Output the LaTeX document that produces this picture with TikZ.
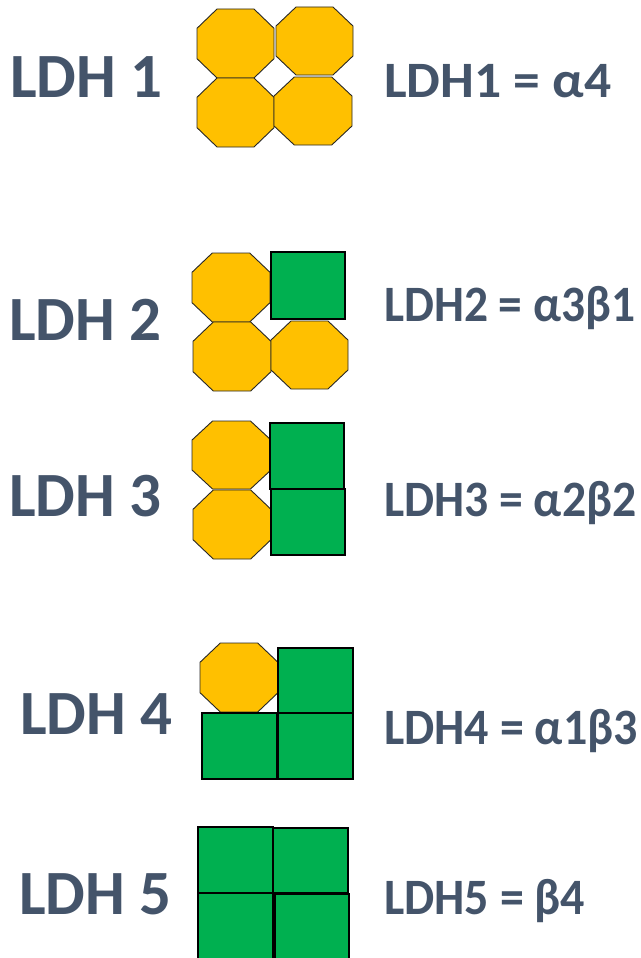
\documentclass[tikz,border=0pt]{standalone}
\usepackage{fontspec}
\setmainfont{Carlito}
\definecolor{txt}{HTML}{44546A}
\definecolor{oyel}{HTML}{FFC000}
\definecolor{sgrn}{HTML}{00B050}
\tikzset{
  oct/.style={fill=oyel, draw=black!85, line width=0.9pt, line join=miter},
  sq/.style={fill=sgrn, draw=black, line width=2pt},
  lbig/.style={text=txt, font=\fontsize{63}{63}\selectfont\bfseries, inner sep=0pt, anchor=base west},
  lsmall/.style={text=txt, font=\fontsize{51}{51}\selectfont\bfseries, inner sep=0pt, anchor=base west}
}
\newcommand{\octg}[4]{\draw[oct] ({#1+0.26*(#3-#1)},#2) -- ({#3-0.26*(#3-#1)},#2) -- (#3,{#2+0.28*(#4-#2)}) -- (#3,{#4-0.28*(#4-#2)}) -- ({#3-0.26*(#3-#1)},#4) -- ({#1+0.26*(#3-#1)},#4) -- (#1,{#4-0.28*(#4-#2)}) -- (#1,{#2+0.28*(#4-#2)}) -- cycle;}
\newcommand{\sqbox}[4]{\draw[sq] (#1,#2) rectangle (#3,#4);}
\begin{document}
\begin{tikzpicture}[x=1pt,y=-1pt]
\clip (0,0) rectangle (640,958);
% LDH1
\octg{197}{9}{274}{78}
\octg{276}{7}{353}{75}
\octg{197}{78}{274}{147}
\octg{274}{77}{352}{145}
% LDH2
\octg{192}{253}{270}{322}
\sqbox{271}{252}{345}{319}
\octg{193}{322}{271}{391}
\octg{271}{321}{348}{389}
% LDH3
\octg{192}{421}{271}{489}
\octg{193}{490}{271}{559}
\sqbox{270}{423}{344}{489}
\sqbox{271}{489}{345}{555}
% LDH4
\octg{200}{643}{278}{712}
\sqbox{278}{648}{353}{713}
\sqbox{202}{713}{277}{779}
\sqbox{278}{713}{353}{779}
% LDH5
\sqbox{198}{827}{273}{893}
\sqbox{273}{828}{348}{893}
\sqbox{198}{893}{273}{962}
\sqbox{275}{894}{349}{962}
% labels
\node[lbig] (l1) at (10,97) {LDH 1};
\node[lbig] (l2) at (9,340) {LDH 2};
\node[lbig] (l3) at (9,516) {LDH 3};
\node[lbig] (l4) at (20,734) {LDH 4};
\node[lbig] (l5) at (19,914) {LDH 5};
\node[lsmall] (r1) at (384,97) {\scalebox{1.05}[1]{LDH1 = α4}};
\node[lsmall] (r2) at (384,321) {\scalebox{0.93}[1]{LDH2 = α3β1}};
\node[lsmall] (r3) at (384,516) {\scalebox{0.935}[1]{LDH3 = α2β2}};
\node[lsmall] (r4) at (384,744) {\scalebox{0.94}[1]{LDH4 = α1β3}};
\node[lsmall] (r5) at (384,914) {\scalebox{0.94}[1]{LDH5 = β4}};
\end{tikzpicture}
\end{document}
